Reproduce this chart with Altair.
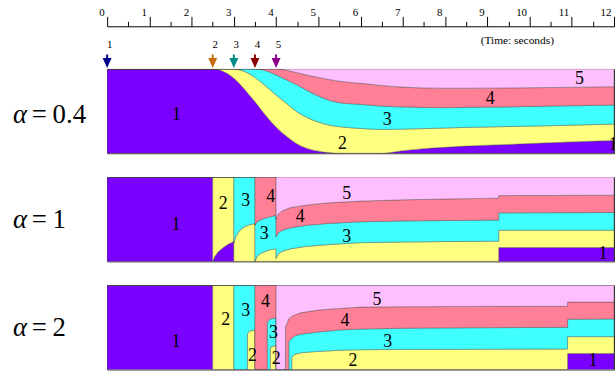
import altair as alt
import pandas as pd

# ---- flows, colours, arrival times -------------------------------------
FLOWS = ["1", "2", "3", "4", "5"]
FILL = ["#7a00ff", "#ffff80", "#40ffff", "#ff8096", "#ffbfff"]
ARROW_COLORS = ["#00008b", "#c8690a", "#008b8b", "#8b0000", "#8b008b"]
START_TIMES = [0.0, 2.5, 3.0, 3.5, 4.0]

TICK_VALUES = [0, 0.5, 1, 1.5, 2, 2.5, 3, 3.5, 4, 4.5, 5, 5.5, 6, 6.5, 7, 7.5,
               8, 8.5, 9, 9.5, 10, 10.5, 11, 11.5, 12]

# ---- alpha = 0.4 : cumulative share of flows 1..k (top edge of band k) ---
T_A04 = [0.0, 2.5, 2.75, 3.0, 3.25, 3.5, 3.75, 4.0, 4.25, 4.5, 4.75, 5.0,
         5.25, 5.5, 6.0, 6.5, 7.0, 7.5, 8.0, 8.5, 9.5, 10.5, 12.0]
F1_A04 = [1, 1, 0.97, 0.89, 0.76, 0.61, 0.45, 0.31, 0.20, 0.11, 0.055, 0.025,
          0.008, 0, 0, 0, 0.03, 0.055, 0.07, 0.085, 0.105, 0.125, 0.152]
F2_A04 = [1, 1, 1, 1, 0.97, 0.90, 0.80, 0.69, 0.59, 0.49, 0.42, 0.37,
          0.335, 0.315, 0.295, 0.283, 0.286, 0.293, 0.30, 0.307, 0.317, 0.327, 0.346]
F3_A04 = [1, 1, 1, 1, 1, 1, 0.98, 0.93, 0.87, 0.81, 0.74, 0.68,
          0.63, 0.60, 0.58, 0.56, 0.55, 0.543, 0.541, 0.545, 0.55, 0.56, 0.572]
F4_A04 = [1, 1, 1, 1, 1, 1, 1, 1, 0.985, 0.955, 0.925, 0.90,
          0.875, 0.855, 0.83, 0.805, 0.785, 0.775, 0.772, 0.772, 0.775, 0.78, 0.79]

# ---- alpha = 1 ----------------------------------------------------------
T_A1 = [0.0, 2.5, 2.5, 2.55, 2.625, 2.75, 2.875, 3.0, 3.0, 3.05, 3.125, 3.25,
        3.375, 3.5, 3.5, 3.55, 3.625, 3.75, 3.875, 4.0, 4.0, 4.05, 4.15, 4.35,
        4.75, 5.25, 6.0, 7.0, 8.0, 9.27, 9.27, 12.0]
F1_A1 = [1, 1, 0, 0.06, 0.11, 0.165, 0.205, 0.235, 0, 0, 0, 0,
         0, 0, 0, 0, 0, 0, 0, 0, 0, 0, 0, 0,
         0, 0, 0, 0, 0, 0, 0.165, 0.165]
F2_A1 = [1, 1, 1, 1, 1, 1, 1, 1, 0.22, 0.30, 0.36, 0.41,
         0.435, 0.45, 0, 0.06, 0.09, 0.12, 0.14, 0.15, 0.035, 0.09, 0.12, 0.15,
         0.18, 0.20, 0.222, 0.23, 0.235, 0.24, 0.37, 0.37]
F3_A1 = [1, 1, 1, 1, 1, 1, 1, 1, 1, 1, 1, 1,
         1, 1, 0.43, 0.47, 0.49, 0.515, 0.53, 0.545, 0.29, 0.34, 0.37, 0.40,
         0.43, 0.45, 0.47, 0.48, 0.485, 0.49, 0.576, 0.58]
F4_A1 = [1, 1, 1, 1, 1, 1, 1, 1, 1, 1, 1, 1,
         1, 1, 1, 1, 1, 1, 1, 1, 0.50, 0.56, 0.60, 0.64,
         0.67, 0.695, 0.715, 0.73, 0.74, 0.75, 0.78, 0.785]

# ---- alpha = 2 ----------------------------------------------------------
T_A2 = [0.0, 2.5, 2.5, 3.0, 3.0, 3.32, 3.32, 3.36, 3.5, 3.5, 3.79, 3.79,
        3.86, 3.86, 4.0, 4.0, 4.22, 4.22, 4.3, 4.3, 4.37, 4.37, 4.45, 4.6,
        5.0, 5.5, 6.0, 7.0, 8.5, 10.9, 10.9, 12.0]
F1_A2 = [1, 1, 0, 0, 0, 0, 0, 0, 0, 0, 0, 0,
         0, 0, 0, 0, 0, 0, 0, 0, 0, 0, 0, 0,
         0, 0, 0, 0, 0, 0, 0.19, 0.19]
F2_A2 = [1, 1, 1, 1, 0, 0, 0.42, 0.455, 0.47, 0, 0, 0,
         0, 0.26, 0.29, 0, 0, 0, 0, 0, 0, 0.15, 0.18, 0.20,
         0.215, 0.228, 0.235, 0.238, 0.24, 0.243, 0.39, 0.39]
F3_A2 = [1, 1, 1, 1, 1, 1, 1, 1, 1, 0, 0, 0.56,
         0.60, 0.60, 0.61, 0, 0, 0, 0, 0.33, 0.37, 0.37, 0.40, 0.42,
         0.445, 0.47, 0.48, 0.49, 0.495, 0.50, 0.596, 0.60]
F4_A2 = [1, 1, 1, 1, 1, 1, 1, 1, 1, 1, 1, 1,
         1, 1, 1, 0, 0, 0.50, 0.60, 0.60, 0.63, 0.63, 0.65, 0.675,
         0.705, 0.725, 0.74, 0.745, 0.748, 0.75, 0.80, 0.80]

# ---- flow-number labels inside the bands ---------------------------------
LAB_T_A04 = [1.64, 5.57, 6.63, 9.07, 11.18, 11.98]
LAB_F_A04 = [0.45, 0.11, 0.39, 0.64, 0.875, 0.10]
LAB_S_A04 = ["1", "2", "3", "4", "5", "1"]

LAB_T_A1 = [1.63, 2.75, 3.28, 3.87, 3.72, 5.67, 4.57, 5.67, 11.74]
LAB_F_A1 = [0.43, 0.68, 0.72, 0.76, 0.33, 0.80, 0.525, 0.29, 0.09]
LAB_S_A1 = ["1", "2", "3", "4", "3", "5", "4", "3", "1"]

LAB_T_A2 = [1.63, 2.81, 3.28, 3.44, 3.75, 3.94, 4.0, 5.63, 6.39, 6.64, 5.82, 11.5]
LAB_F_A2 = [0.33, 0.59, 0.69, 0.16, 0.80, 0.43, 0.12, 0.57, 0.82, 0.33, 0.10, 0.10]
LAB_S_A2 = ["1", "2", "3", "2", "4", "3", "2", "4", "5", "3", "2", "1"]

SERIF = "Liberation Serif"
W = 511          # 12 s at ~42.6 px per second
H = 85

x_scale = alt.Scale(domain=[0, 12], nice=False, zero=False)
y_scale = alt.Scale(domain=[0, 1], nice=False, zero=False)

top_axis = alt.Axis(
    orient="top", offset=43, values=TICK_VALUES, grid=False,
    tickSize={"condition": {"test": "datum.value % 1 === 0", "value": 10}, "value": 5},
    tickColor="black", tickWidth=1, domainColor="black", domainWidth=1,
    labelExpr="datum.value % 1 === 0 ? format(datum.value, 'd') : ''",
    labelFont=SERIF, labelFontSize=11, labelColor="black",
    labelAlign="right", labelBaseline="alphabetic", labelPadding=1,
    labelOffset=-3, labelFlush=False, labelOverlap=False,
    title="(Time: seconds)", titleFont=SERIF, titleFontSize=11.5,
    titleFontWeight="normal", titleColor="black",
    titleX=413, titleY=14, titleAlign="center", titleBaseline="middle",
)


def band_table(times, levels):
    """One row per (flow, time); rows keep their time order for the path."""
    edges = [[0.0] * len(times)] + levels + [[1.0] * len(times)]
    rows = []
    for k, flow in enumerate(FLOWS):
        for i, t in enumerate(times):
            rows.append({"t": t, "lo": edges[k][i], "hi": edges[k + 1][i], "flow": flow})
    return pd.DataFrame(rows)


def panel(times, levels, interp, lab_t, lab_f, lab_s, alpha_value, alpha_y, axis):
    xenc = alt.X("t:Q", scale=x_scale, axis=axis)
    bands = alt.Chart(band_table(times, levels)).mark_area(
        interpolate=interp, clip=True, stroke="#444", strokeWidth=0.5, strokeOpacity=0.8
    ).encode(
        x=xenc,
        y=alt.Y("lo:Q", scale=y_scale, axis=None, stack=None),
        y2="hi:Q",
        color=alt.Color("flow:N", scale=alt.Scale(domain=FLOWS, range=FILL), legend=None),
    )
    labels = alt.Chart(pd.DataFrame({"t": lab_t, "f": lab_f, "s": lab_s})).mark_text(
        font=SERIF, fontSize=18, color="black", align="center", baseline="middle", clip=True
    ).encode(x=xenc, y=alt.Y("f:Q", scale=y_scale, axis=None), text="s:N")

    name = pd.DataFrame({"sym": ["α"], "eq": ["="], "val": [alpha_value]})
    sym = alt.Chart(name).mark_text(
        font=SERIF, fontSize=27, fontStyle="italic", color="black",
        align="left", baseline="middle"
    ).encode(x=alt.value(-95), y=alt.value(alpha_y), text="sym:N")
    eq = alt.Chart(name).mark_text(
        font=SERIF, fontSize=27, color="black", align="left", baseline="middle"
    ).encode(x=alt.value(-76), y=alt.value(alpha_y), text="eq:N")
    val = alt.Chart(name).mark_text(
        font=SERIF, fontSize=27, color="black", align="left", baseline="middle"
    ).encode(x=alt.value(-55), y=alt.value(alpha_y), text="val:N")
    return [bands, labels, sym, eq, val], xenc


layers1, x1 = panel(T_A04, [F1_A04, F2_A04, F3_A04, F4_A04], "monotone",
                    LAB_T_A04, LAB_F_A04, LAB_S_A04, "0.4", 46, top_axis)

# arrival arrows above the first panel
arrow_df = pd.DataFrame({"t": START_TIMES, "c": ARROW_COLORS, "s": FLOWS})
ARROW_SHAPE = "M-0.2,-1.7L0.2,-1.7L0.2,-1L0.9,-1L0,1L-0.9,-1L-0.2,-1Z"
arrows = alt.Chart(arrow_df).mark_point(
    shape=ARROW_SHAPE, size=100, filled=True, opacity=1, strokeWidth=0
).encode(x=x1, y=alt.value(-6), fill=alt.Fill("c:N", scale=None))
arrow_text = alt.Chart(arrow_df).mark_text(
    font=SERIF, fontSize=11, color="black", align="center", baseline="middle", dx=2.5
).encode(x=x1, y=alt.value(-24), text="s:N")

p1 = alt.layer(*layers1, arrows, arrow_text).properties(width=W, height=H)

layers2, _ = panel(T_A1, [F1_A1, F2_A1, F3_A1, F4_A1], "linear",
                   LAB_T_A1, LAB_F_A1, LAB_S_A1, "1", 43, None)
p2 = alt.layer(*layers2).properties(width=W, height=H)

layers3, _ = panel(T_A2, [F1_A2, F2_A2, F3_A2, F4_A2], "linear",
                   LAB_T_A2, LAB_F_A2, LAB_S_A2, "2", 43, None)
p3 = alt.layer(*layers3).properties(width=W, height=H)

chart = alt.vconcat(p1, p2, p3, spacing=22).properties(
    padding={"left": 12, "top": 4, "right": 0, "bottom": 0},
    background="white",
).configure_view(stroke="#333", strokeWidth=1)

chart.save("out.html", embed_options={"renderer": "svg", "actions": False})
